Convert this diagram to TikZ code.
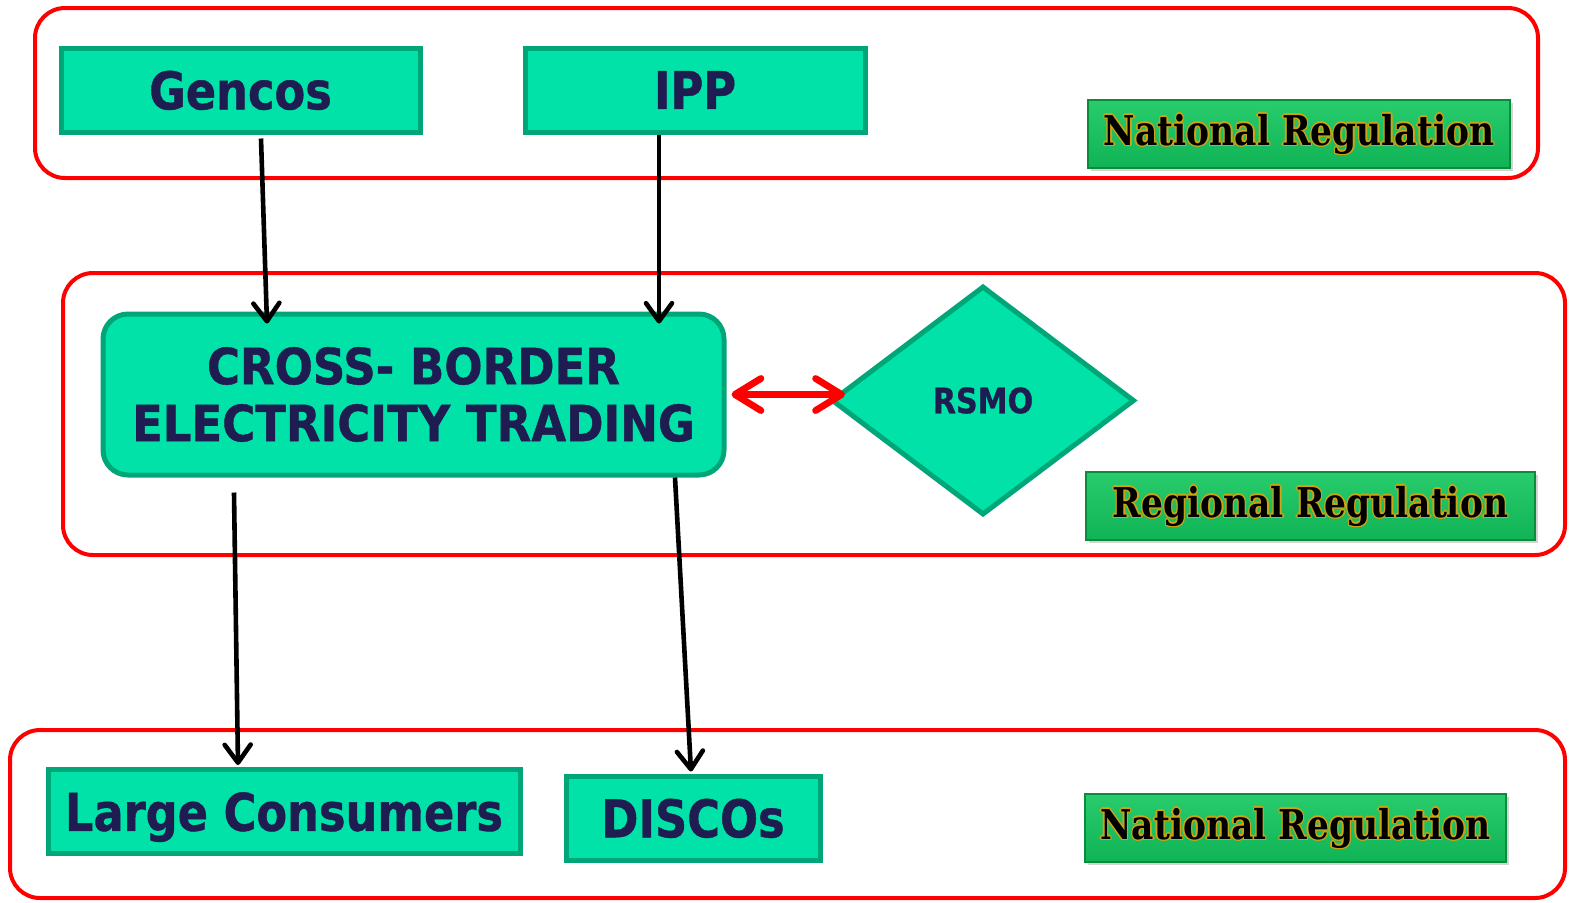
\documentclass[tikz,border=0pt]{standalone}
\usepackage{fontspec}
\usetikzlibrary{shapes.geometric,arrows.meta,shadows}
\newfontfamily\hdfont{DejaVu Sans}[FakeStretch=0.86,FakeBold=0.8]
\newfontfamily\cbtfont{DejaVu Sans}[FakeStretch=0.9,FakeBold=0.8]
\newfontfamily\regfont{DejaVu Serif}[FakeStretch=0.84]
\definecolor{mint}{RGB}{0,226,168}
\definecolor{mintdark}{RGB}{0,166,120}
\definecolor{navy}{RGB}{30,28,80}
\definecolor{regtop}{RGB}{40,204,108}
\definecolor{regbot}{RGB}{16,180,86}
\definecolor{regedge}{RGB}{10,140,60}
\definecolor{gold}{RGB}{205,165,20}
\newcommand\goldtxt[1]{\leavevmode\setbox0\hbox{#1}%
  \rlap{\color{gold}\raise.7pt\copy0}\rlap{\color{gold}\lower.7pt\copy0}%
  \rlap{\color{gold}\kern.7pt\copy0}\rlap{\color{gold}\kern-.7pt\copy0}%
  \rlap{\color{gold}\kern.5pt\raise.5pt\copy0}\rlap{\color{gold}\kern-.5pt\lower.5pt\copy0}%
  \rlap{\color{gold}\kern.5pt\lower.5pt\copy0}\rlap{\color{gold}\kern-.5pt\raise.5pt\copy0}%
  \box0}
\tikzset{
  gbox/.style={draw=mintdark, fill=mint, line width=2.5pt, text=navy, inner sep=0pt,
    font=\hdfont\bfseries\fontsize{26}{30}\selectfont},
  redframe/.style={draw=red, line width=2pt, rounded corners=15pt},
  regbox/.style={draw=regedge, line width=0.6pt, top color=regtop, bottom color=regbot,
    drop shadow={shadow xshift=1.5pt, shadow yshift=-1.5pt, opacity=0.35},
    text=black, inner sep=0pt, minimum height=34pt,
    font=\regfont\bfseries\fontsize{20.5}{24}\selectfont},
  flow/.style={draw=black, line width=2.3pt, -{Straight Barb[length=9pt,width=13pt,round]}},
  link/.style={draw=red, line width=3.4pt,
    {Straight Barb[length=13pt,width=16pt,round]}-{Straight Barb[length=13pt,width=16pt,round]}}
}
\begin{document}
\begin{tikzpicture}[x=0.5pt,y=-0.5pt]
\useasboundingbox (0,0) rectangle (1575,902);
% frames
\draw[redframe] (35,8) rectangle (1538,178);
\draw[redframe] (63,273) rectangle (1565,555);
\draw[redframe] (10,730) rectangle (1565,898);
% top row
\node[gbox, minimum width=179.5pt, minimum height=42pt, text depth=0pt] (gencos) at (240.5,90) {Gencos};
\node[gbox, minimum width=170pt, minimum height=42pt, text depth=0pt] (ipp) at (695,90) {IPP};
\node[regbox, minimum width=211pt] (nat1) at (1299,134) {\goldtxt{National Regulation}};
% middle row
\node[gbox, rounded corners=12.5pt, minimum width=310.5pt, minimum height=80.5pt, align=center,
  font=\cbtfont\bfseries\fontsize{25}{28.5}\selectfont] (cbt) at (413.5,394.5)
  {CROSS- BORDER\\ELECTRICITY TRADING};
\node[gbox, diamond, minimum width=151.5pt, minimum height=114.5pt,
  font=\hdfont\bfseries\fontsize{17.5}{20}\selectfont] (rsmo) at (983,400.5) {RSMO};
\node[regbox, minimum width=224.5pt] (reg) at (1310.5,506) {\goldtxt{Regional Regulation}};
% bottom row
\node[gbox, minimum width=236pt, minimum height=42pt, text depth=0pt] (large) at (284,811.5) {Large Consumers};
\node[gbox, minimum width=127pt, minimum height=42pt, text depth=0pt] (discos) at (693,818) {DISCOs};
\node[regbox, minimum width=210.5pt] (nat2) at (1295.5,828) {\goldtxt{National Regulation}};
% connectors
\draw[flow] ([xshift=10.25pt,yshift=-2pt]gencos.south) -- ([xshift=-73.25pt,yshift=-6pt]cbt.north);
\draw[flow] ([xshift=-18pt]ipp.south) -- ([xshift=122.75pt,yshift=-6pt]cbt.north);
\draw[flow] ([xshift=-89.75pt,yshift=-7.5pt]cbt.south) -- ([xshift=-23pt,yshift=1pt]large.north);
\draw[flow] ([xshift=130.75pt]cbt.south) -- ([xshift=-1pt,yshift=1pt]discos.north);
\draw[link] ([xshift=2.5pt]cbt.east) -- ([xshift=8pt]cbt.east -| rsmo.west);
\end{tikzpicture}
\end{document}
